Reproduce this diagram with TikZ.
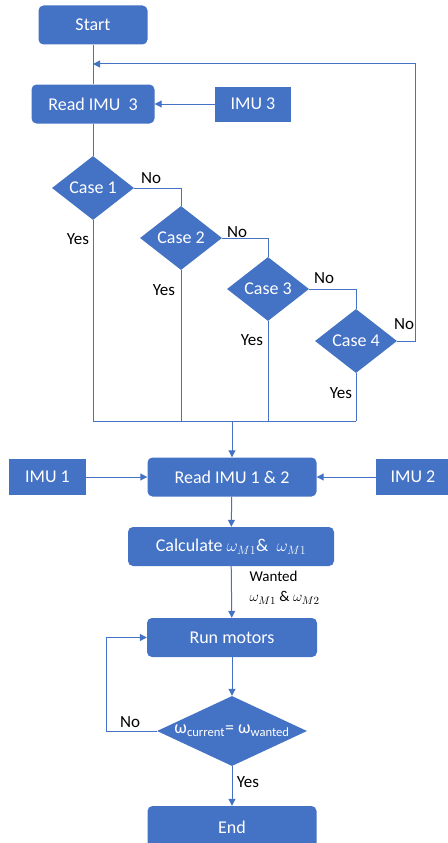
\documentclass[tikz,border=0pt]{standalone}
\usepackage{fontspec}
\setmainfont{Carlito}
\usetikzlibrary{shapes.geometric,arrows.meta}
\definecolor{flowblue}{HTML}{4472C4}

\tikzset{
	block/.style={rectangle, rounded corners=5pt, fill=flowblue, text=white, minimum height=39pt, font=\fontsize{18}{20}\selectfont},
	sensor/.style={rectangle, fill=flowblue, text=white, minimum height=36pt, font=\fontsize{18}{20}\selectfont},
	decision/.style={diamond, fill=flowblue, text=white, inner sep=0pt, font=\fontsize{18}{20}\selectfont},
	lbl/.style={font=\fontsize{17}{20}\selectfont},
	line/.style={draw=flowblue, line width=1pt},
	arr/.style={line, -{Triangle[length=7pt,width=7pt]}}
}

\begin{document}
\begin{tikzpicture}[x=1pt, y=-1pt]
	\useasboundingbox (0,0) rectangle (447,843);

	% Top part: read IMU 3 and check the cases
	\node[block, minimum width=109pt] (start) at (93,25) {Start};
	\node[block, minimum width=123pt] (read3) at (93,104) {Read IMU\ \ 3};
	\node[sensor, minimum width=76pt, minimum height=35pt] (imu3) at (253,104) {IMU 3};

	\node[decision, minimum width=82pt, minimum height=64pt] (case1) at (93,188) {Case 1};
	\node[decision, minimum width=82pt, minimum height=64pt] (case2) at (181,238) {Case 2};
	\node[decision, minimum width=82pt, minimum height=64pt] (case3) at (268,289) {Case 3};
	\node[decision, minimum width=82pt, minimum height=64pt] (case4) at (356,341) {Case 4};

	\coordinate (back) at (93,64);
	\coordinate (backR) at (415,64);
	\coordinate (merge) at (232,421);

	\draw[line] (start) -- (read3);
	\draw[arr] (imu3) -- (read3);
	\draw[line] (read3) -- (case1);

	% No branches
	\draw[line] (case1.east) -| (case2.north);
	\draw[line] (case2.east) -| (case3.north);
	\draw[line] (case3.east) -| (case4.north);
	\draw[arr] (case4.east) -| (backR) -- (back);

	% Yes branches
	\draw[line] (case1.south) -- (case1.south |- merge);
	\draw[line] (case2.south) -- (case2.south |- merge);
	\draw[line] (case3.south) -- (case3.south |- merge);
	\draw[line] (case4.south) -- (case4.south |- merge);
	\draw[line] (case1.south |- merge) -- (case4.south |- merge);

	\node[lbl] (no1) at (151,178) {No};
	\node[lbl] (no2) at (237,232) {No};
	\node[lbl] (no3) at (324,278) {No};
	\node[lbl] (no4) at (404,324) {No};
	\node[lbl] (yes1) at (78,239) {Yes};
	\node[lbl] (yes2) at (164,290) {Yes};
	\node[lbl] (yes3) at (252,340) {Yes};
	\node[lbl] (yes4) at (341,393) {Yes};

	% Bottom part: read IMU 1 & 2 and run the motors
	\node[block, minimum width=169pt] (read12) at (232,477) {Read IMU 1 \& 2};
	\node[sensor, minimum width=77pt] (imu1) at (47.5,477) {IMU 1};
	\node[sensor, minimum width=74pt] (imu2) at (413,477) {IMU 2};
	\node[block, minimum width=206pt] (calc) at (231,546.5) {Calculate $\omega_{M1}$\& \ $\omega_{M1}$};
	\node[block, minimum width=170pt] (run) at (232,637.5) {Run motors};
	\node[decision, minimum width=150pt, minimum height=70pt,
		label={[text=white, font=\fontsize{18}{20}\selectfont]center:ω\textsubscript{current}= ω\textsubscript{wanted}}] (check) at (232,731) {};
	\node[block, minimum width=169pt, minimum height=42pt] (end) at (232,827) {End};

	\coordinate (retry) at (106,731);

	\draw[arr] (merge) -- (read12);
	\draw[arr] (imu1) -- (read12);
	\draw[arr] (imu2) -- (read12);
	\draw[arr] (read12) -- (calc);
	\draw[arr] (calc) -- (run);
	\draw[arr] (run) -- (check);
	\draw[arr] (check.west) -- (retry) |- (run.west);
	\draw[arr] (check) -- (end);

	\node[font=\fontsize{15}{20}\selectfont, align=left, anchor=west] (wanted) at (246,588) {Wanted\\ $\omega_{M1}$ \& $\omega_{M2}$};
	\node[lbl] (no5) at (130,722) {No};
	\node[lbl] (yes5) at (248,782) {Yes};

\end{tikzpicture}
\end{document}
